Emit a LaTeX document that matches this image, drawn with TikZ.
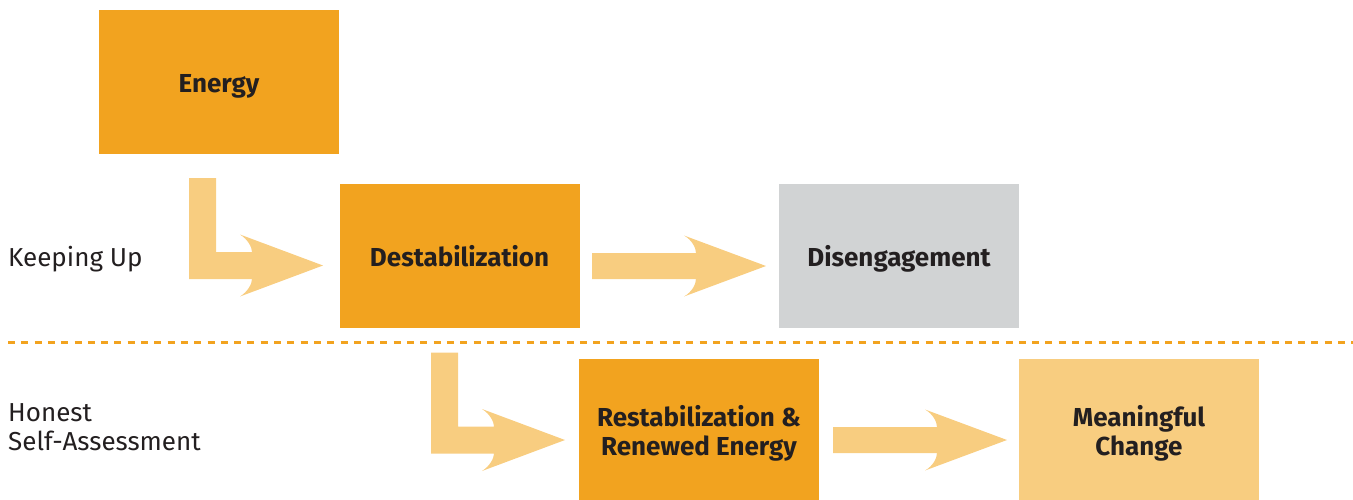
\documentclass[tikz,border=0pt]{standalone}
\usepackage{fontspec}
\setmainfont{Fira Sans}
\definecolor{orangeA}{HTML}{F2A31F}
\definecolor{orangeL}{HTML}{F8CD80}
\definecolor{greyB}{HTML}{D1D3D4}
\definecolor{txt}{HTML}{231F20}
\tikzset{
  box/.style={rectangle, minimum width=240pt, minimum height=144pt, inner sep=0pt,
    align=center, text=txt, font=\fontsize{26}{29}\selectfont\bfseries},
  boxtext/.style={inner sep=0pt, align=center, text=txt, font=\fontsize{26}{29}\selectfont\bfseries},
  sidelabel/.style={anchor=west, inner sep=0pt, align=left, text=txt,
    font=\fontsize{26}{29}\selectfont},
  arrowfill/.style={fill=orangeL},
  rarrow/.pic={\fill[arrowfill] (0,-13) -- ({#1-70},-13) .. controls ({#1-70},-18) and ({#1-74},-26) .. ({#1-82},-30.5) -- (#1,0) -- ({#1-82},30.5) .. controls ({#1-74},26) and ({#1-70},18) .. ({#1-70},13) -- (0,13) -- cycle;},
  larrow/.pic={\fill[arrowfill] (0,-87.5) -- (27,-87.5) -- (27,-13.5) -- (63,-13.5) .. controls (63,-18) and (59,-26) .. (51,-31) -- (134,0) -- (51,31) .. controls (59,26) and (63,18) .. (63,13.5) -- (0,13.5) -- cycle;}
}
\begin{document}
\begin{tikzpicture}[x=1pt,y=-1pt]
\useasboundingbox (0,0) rectangle (1353,499);
\node[box, fill=orangeA] (energy) at (219,82) {};
\node[box, fill=orangeA] (destab) at (459.5,256) {};
\node[box, fill=greyB] (diseng) at (899,256) {};
\node[box, fill=orangeA] (restab) at (699,431) {};
\node[box, fill=orangeL] (change) at (1139,431) {};
\node[boxtext, yshift=-4pt] (energyT) at (energy) {Energy};
\node[boxtext, yshift=-0.5pt] (destabT) at (destab) {Destabilization};
\node[boxtext, yshift=-3pt] (disengT) at (diseng) {Disengagement};
\node[boxtext, yshift=-2pt] (restabT) at (restab) {Restabilization \&\\Renewed Energy};
\node[boxtext, yshift=-2pt] (changeT) at (change) {Meaningful\\Change};
\node[sidelabel] (keep) at (8,259) {Keeping Up};
\node[sidelabel] (honest) at (8,427) {Honest\\Self-Assessment};
\coordinate (dashL) at (8,342);
\coordinate (dashR) at (1353,342);
\draw[orangeA, line width=3pt, dash pattern=on 7pt off 6.3pt] (dashL) -- (dashR);
\pic at (189,265.5) {larrow};
\pic at (592,266) {rarrow=174};
\pic at (431,440) {larrow};
\pic at (833,440) {rarrow=174};
\end{tikzpicture}
\end{document}
